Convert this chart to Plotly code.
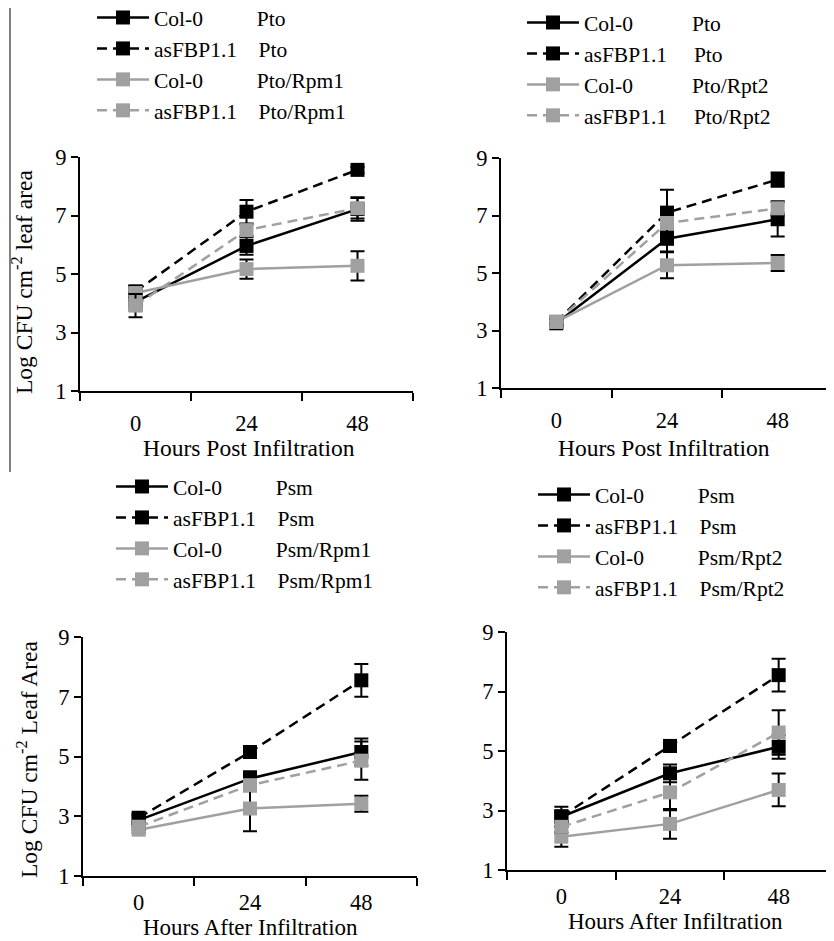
import plotly.graph_objects as go

# page is 834x941; the html body adds an 8px margin, so the figure is 826x933
PAGE_OFF = 8
W, H = 834 - PAGE_OFF, 941 - PAGE_OFF
FONT = "Liberation Serif"
BLACK = "#000000"
GRAY = "#a0a0a0"
NB = "\u00a0"

hours = ["0", "24", "48"]
y_ticks = [1, 3, 5, 7, 9]

# ---- Panel A: Pto vs Pto/Rpm1 ----
a_col_pto = [4.05, 5.96, 7.22]
a_col_pto_err = [0.3, 0.3, 0.4]
a_as_pto = [4.4, 7.13, 8.56]
a_as_pto_err = [0.2, 0.4, 0.1]
a_col_rpm1 = [4.35, 5.17, 5.28]
a_col_rpm1_err = [0.25, 0.33, 0.5]
a_as_rpm1 = [3.92, 6.5, 7.25]
a_as_rpm1_err = [0.4, 0.2, 0.35]

# ---- Panel B: Pto vs Pto/Rpt2 ----
b_col_pto = [3.25, 6.19, 6.87]
b_col_pto_err = [0.15, 0.44, 0.6]
b_as_pto = [3.3, 7.1, 8.25]
b_as_pto_err = [0.15, 0.8, 0.25]
b_col_rpt2 = [3.3, 5.27, 5.35]
b_col_rpt2_err = [0.1, 0.45, 0.28]
b_as_rpt2 = [3.3, 6.74, 7.25]
b_as_rpt2_err = [0.1, 0.3, 0.25]

# ---- Panel C: Psm vs Psm/Rpm1 ----
c_col_psm = [2.87, 4.26, 5.15]
c_col_psm_err = [0.15, 0.25, 0.45]
c_as_psm = [2.95, 5.15, 7.55]
c_as_psm_err = [0.15, 0.2, 0.55]
c_col_rpm1 = [2.55, 3.26, 3.42]
c_col_rpm1_err = [0.1, 0.76, 0.27]
c_as_rpm1 = [2.65, 4.04, 4.86]
c_as_rpm1_err = [0.1, 0.2, 0.64]

# ---- Panel D: Psm vs Psm/Rpt2 ----
d_col_psm = [2.79, 4.25, 5.14]
d_col_psm_err = [0.34, 0.3, 0.4]
d_as_psm = [2.8, 5.17, 7.55]
d_as_psm_err = [0.2, 0.2, 0.55]
d_col_rpt2 = [2.12, 2.55, 3.69]
d_col_rpt2_err = [0.34, 0.5, 0.55]
d_as_rpt2 = [2.45, 3.61, 5.62]
d_as_rpt2_err = [0.2, 0.6, 0.75]


def px_x(v):
    return (v - PAGE_OFF) / W


def px_y(v):
    return 1 - (v - PAGE_OFF) / H


fig = go.Figure()

panels = [
    ("", "legend", [(a_col_pto, a_col_pto_err), (a_as_pto, a_as_pto_err),
                    (a_col_rpm1, a_col_rpm1_err), (a_as_rpm1, a_as_rpm1_err)],
     ["Pto", "Pto", "Pto/Rpm1", "Pto/Rpm1"], (10, 4)),
    ("2", "legend2", [(b_col_pto, b_col_pto_err), (b_as_pto, b_as_pto_err),
                      (b_col_rpt2, b_col_rpt2_err), (b_as_rpt2, b_as_rpt2_err)],
     ["Pto", "Pto", "Pto/Rpt2", "Pto/Rpt2"], (11, 5)),
    ("3", "legend3", [(c_col_psm, c_col_psm_err), (c_as_psm, c_as_psm_err),
                      (c_col_rpm1, c_col_rpm1_err), (c_as_rpm1, c_as_rpm1_err)],
     ["Psm", "Psm", "Psm/Rpm1", "Psm/Rpm1"], (10, 4)),
    ("4", "legend4", [(d_col_psm, d_col_psm_err), (d_as_psm, d_as_psm_err),
                      (d_col_rpt2, d_col_rpt2_err), (d_as_rpt2, d_as_rpt2_err)],
     ["Psm", "Psm", "Psm/Rpt2", "Psm/Rpt2"], (10, 4)),
]

styles = [
    (BLACK, "solid", "Col-0"),
    (BLACK, "10px,6px", "asFBP1.1"),
    (GRAY, "solid", "Col-0"),
    (GRAY, "10px,6px", "asFBP1.1"),
]

for suffix, leg, series, strains, gaps in panels:
    for (vals, errs), (col, dash, geno), strain in zip(series, styles, strains):
        gap = gaps[0] if geno == "Col-0" else gaps[1]
        fig.add_trace(go.Scatter(
            x=hours, y=vals,
            xaxis="x" + suffix, yaxis="y" + suffix,
            mode="lines+markers",
            name=geno + NB * gap + strain,
            legend=leg,
            line=dict(color=col, width=2.5, dash=dash),
            marker=dict(symbol="square", size=14, color=col),
            error_y=dict(type="data", array=errs, visible=True,
                         color=BLACK, thickness=2, width=7),
        ))

# panel geometry in page pixels: x0, x1, ytop(9), ybottom(1), tick label standoff
geom = {
    "": (80, 413, 157, 391, 11),
    "2": (501, 833, 158, 388, 11),
    "3": (83, 417, 637, 876, 5),
    "4": (507, 833, 632, 870, 5),
}

layout = dict(
    width=W, height=H,
    margin=dict(l=0, r=0, t=0, b=0, autoexpand=False),
    paper_bgcolor="white", plot_bgcolor="white",
    font=dict(family=FONT, size=22.5, color="black"),
    showlegend=True,
)

for suffix, (x0, x1, yt, yb, standoff) in geom.items():
    layout["xaxis" + suffix] = dict(
        domain=[px_x(x0), px_x(x1)],
        anchor="y" + suffix,
        type="category",
        range=[-0.5, 2.5],
        tickson="boundaries",
        ticks="outside", ticklen=8, tickwidth=2, tickcolor="black",
        ticklabelstandoff=standoff,
        showline=True, linecolor="black", linewidth=2,
        showgrid=False, zeroline=False,
        tickfont=dict(family=FONT, size=22.5, color="black"),
        fixedrange=True,
    )
    layout["yaxis" + suffix] = dict(
        domain=[px_y(yb), px_y(yt)],
        anchor="x" + suffix,
        range=[1, 9],
        tickvals=y_ticks,
        ticks="outside", ticklen=7, tickwidth=2, tickcolor="black",
        showline=True, linecolor="black", linewidth=2,
        showgrid=False, zeroline=False,
        tickfont=dict(family=FONT, size=22.5, color="black"),
        fixedrange=True,
    )

leg_common = dict(
    font=dict(family=FONT, size=21.5, color="black"),
    bgcolor="rgba(0,0,0,0)", borderwidth=0,
    xanchor="left", yanchor="top",
    itemwidth=52, tracegroupgap=0,
)
layout["legend"] = dict(leg_common, x=px_x(92), y=px_y(-3))
layout["legend2"] = dict(leg_common, x=px_x(522), y=px_y(2))
layout["legend3"] = dict(leg_common, x=px_x(111), y=px_y(466))
layout["legend4"] = dict(leg_common, x=px_x(533), y=px_y(474))

annotations = []


def ann(text, x, y, angle=0, size=23.5):
    annotations.append(dict(
        text=text, x=px_x(x), y=px_y(y), xref="paper", yref="paper",
        showarrow=False, textangle=angle, xanchor="center", yanchor="middle",
        font=dict(family=FONT, size=size, color="black"),
    ))


ann("Hours Post Infiltration", 249, 448)
ann("Hours Post Infiltration", 664, 448)
ann("Hours After Infiltration", 250, 927, size=23)
ann("Hours After Infiltration", 675, 921, size=23)
ann("Log CFU cm<sup>-2</sup> leaf area", 22, 282, angle=-90)
ann("Log CFU cm<sup>-2</sup> Leaf Area", 27, 760, angle=-90)
layout["annotations"] = annotations

layout["shapes"] = [dict(
    type="line", xref="paper", yref="paper",
    x0=px_x(10), x1=px_x(10), y0=px_y(PAGE_OFF), y1=px_y(472),
    line=dict(color="#808080", width=2),
)]

fig.update_layout(**layout)
fig.write_html("out.html")
